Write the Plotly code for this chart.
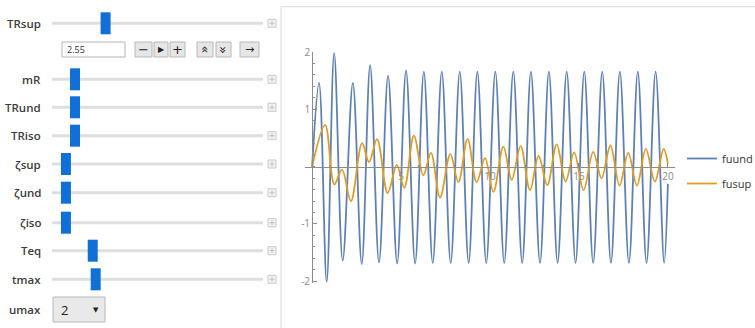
import plotly.graph_objects as go

W, H = 755, 328

# ---------------- data ----------------
t_fuund = [0, 0.39, 0.82, 1.24, 1.72, 2.29, 2.79, 3.26, 3.76, 4.27, 4.78, 5.28, 5.79,
           6.28, 6.78, 7.29, 7.79, 8.30, 8.80, 9.29, 9.79, 10.30, 10.80, 11.31, 11.81,
           12.30, 12.81, 13.31, 13.80, 14.31, 14.81, 15.30, 15.80, 16.31, 16.80, 17.30,
           17.81, 18.31, 18.80, 19.31, 19.79, 20.0]
fuund = [0, 1.46, -2.01, 1.98, -1.64, 1.46, -1.70, 1.77, -1.67, 1.59, -1.69, 1.68, -1.69,
         1.66, -1.68, 1.66, -1.68, 1.66, -1.68, 1.66, -1.68, 1.66, -1.68, 1.66, -1.68,
         1.66, -1.68, 1.66, -1.68, 1.66, -1.68, 1.66, -1.68, 1.66, -1.68, 1.66,
         -1.68, 1.66, -1.68, 1.66, -1.68, -0.3]

t_fusup = [0, 0.73, 1.25, 1.68, 2.18, 2.81, 3.20, 3.65, 4.25, 4.76, 5.18, 5.72, 6.25,
           6.68, 7.19, 7.77, 8.22, 8.74, 9.25, 9.72, 10.19, 10.75, 11.22, 11.72, 12.25,
           12.73, 13.22, 13.75, 14.25, 14.73, 15.26, 15.80, 16.27, 16.77, 17.28, 17.77,
           18.26, 18.76, 19.27, 19.76, 20.0]
fusup = [0, 0.73, -0.31, -0.05, -0.60, 0.41, 0.08, 0.48, -0.46, 0.03, -0.37, 0.54, -0.15,
         0.24, -0.54, 0.22, -0.27, 0.48, -0.27, 0.15, -0.44, 0.35, -0.23, 0.36, -0.41,
         0.19, -0.32, 0.39, -0.26, 0.25, -0.41, 0.26, -0.20, 0.37, -0.33, 0.24,
         -0.33, 0.31, -0.26, 0.31, 0.05]

x_tick_vals = [5, 10, 15, 20]
x_tick_text = ["5", "10", "15", "20"]
y_tick_vals = [-2, -1, 1, 2]
y_tick_text = ["-2", "-1", "1", "2"]

control_labels = ["TRsup", "mR", "TRund", "TRiso", "ζsup", "ζund", "ζiso", "Teq", "tmax"]
control_values = [0.254, 0.109, 0.109, 0.109, 0.066, 0.066, 0.066, 0.193, 0.207]
trsup_text = "2.55"
umax_label = "umax"
umax_value = "2"

# ---------------- helpers ----------------
def X(px):
    return px / W


def Y(py):
    return 1 - py / H


shapes = []
annotations = []

LABEL_FONT = dict(family="Open Sans", size=11.5, color="#3c3c3c", weight=600)
TRACK_X0, TRACK_X1 = 52, 263
row_y = [23.3, 79.3, 107.3, 135.7, 164.0, 192.7, 222.7, 250.7, 279.3]

for lab, val, yy in zip(control_labels, control_values, row_y):
    annotations.append(dict(x=X(43), y=Y(yy), xref="paper", yref="paper", text=lab,
                            showarrow=False, xanchor="right", yanchor="middle",
                            font=LABEL_FONT))
    shapes.append(dict(type="line", xref="paper", yref="paper",
                       x0=X(TRACK_X0), x1=X(TRACK_X1), y0=Y(yy), y1=Y(yy),
                       line=dict(color="#dedede", width=3)))
    cx = TRACK_X0 + val * (TRACK_X1 - TRACK_X0)
    shapes.append(dict(type="rect", xref="paper", yref="paper",
                       x0=X(cx - 5), x1=X(cx + 5), y0=Y(yy + 11), y1=Y(yy - 11),
                       fillcolor="#1170d8", line=dict(width=0)))
    # small "+" box at the right
    shapes.append(dict(type="rect", xref="paper", yref="paper",
                       x0=X(268), x1=X(276), y0=Y(yy + 4), y1=Y(yy - 4),
                       fillcolor="#f4f4f4", line=dict(color="#c8c8c8", width=1)))
    shapes.append(dict(type="line", xref="paper", yref="paper",
                       x0=X(269.5), x1=X(274.5), y0=Y(yy), y1=Y(yy),
                       line=dict(color="#c0c0c0", width=1)))
    shapes.append(dict(type="line", xref="paper", yref="paper",
                       x0=X(272), x1=X(272), y0=Y(yy - 2.5), y1=Y(yy + 2.5),
                       line=dict(color="#c0c0c0", width=1)))

# animation control row under TRsup
by0, by1 = 42, 57
shapes.append(dict(type="rect", xref="paper", yref="paper",
                   x0=X(62), x1=X(125), y0=Y(by1), y1=Y(by0),
                   fillcolor="#ffffff", line=dict(color="#b4b4b4", width=1)))
annotations.append(dict(x=X(65), y=Y(49.5), xref="paper", yref="paper", text=trsup_text,
                        showarrow=False, xanchor="left", yanchor="middle",
                        font=dict(family="Open Sans", size=9, color="#333333")))
buttons = [(135, 152, "−", 0, 13), (154, 168, "▶", 0, 8), (170, 185, "+", 0, 13),
           (197, 213, "«", 90, 13), (216, 231, "»", 90, 13), (240, 259, "→", 0, 11)]
for bx0, bx1, sym, ang, fs in buttons:
    shapes.append(dict(type="rect", xref="paper", yref="paper",
                       x0=X(bx0), x1=X(bx1), y0=Y(by1), y1=Y(by0),
                       fillcolor="#e6e6e6", line=dict(color="#b8b8b8", width=1)))
    annotations.append(dict(x=X((bx0 + bx1) / 2), y=Y(49.5), xref="paper", yref="paper",
                            text=sym, showarrow=False, xanchor="center", yanchor="middle",
                            textangle=ang,
                            font=dict(family="DejaVu Sans", size=fs, color="#222222")))

# umax popup menu
annotations.append(dict(x=X(43), y=Y(309.3), xref="paper", yref="paper", text=umax_label,
                        showarrow=False, xanchor="right", yanchor="middle", font=LABEL_FONT))
shapes.append(dict(type="rect", xref="paper", yref="paper",
                   x0=X(53), x1=X(105), y0=Y(322), y1=Y(297),
                   fillcolor="#e9e9e9", line=dict(color="#b8b8b8", width=1)))
annotations.append(dict(x=X(59), y=Y(309.5), xref="paper", yref="paper", text=umax_value,
                        showarrow=False, xanchor="left", yanchor="middle",
                        font=dict(family="Open Sans", size=13, color="#222222")))
annotations.append(dict(x=X(96), y=Y(309.5), xref="paper", yref="paper", text="▼",
                        showarrow=False, xanchor="center", yanchor="middle",
                        font=dict(family="DejaVu Sans", size=7, color="#222222")))

# output panel frame
shapes.append(dict(type="rect", xref="paper", yref="paper",
                   x0=X(281), x1=X(770), y0=Y(340), y1=Y(6.7),
                   fillcolor="rgba(0,0,0,0)", line=dict(color="#dadada", width=1), layer="below"))

# ---------------- traces ----------------
fig = go.Figure()
fig.add_trace(go.Scatter(x=t_fuund, y=fuund, mode="lines", name="fuund", legendgroup="a",
                         line=dict(color="#5E81B5", width=1.8, shape="spline", smoothing=1)))
fig.add_trace(go.Scatter(x=t_fusup, y=fusup, mode="lines", name="fusup", legendgroup="b",
                         line=dict(color="#E19C24", width=1.8, shape="spline", smoothing=1)))

AX_COLOR = "#8c8c8c"
TICK_FONT = dict(family="Open Sans", size=10, color="#8a8a8a")

fig.update_layout(
    width=W, height=H,
    margin=dict(l=0, r=0, t=0, b=0, autoexpand=False),
    paper_bgcolor="white", plot_bgcolor="rgba(0,0,0,0)",
    showlegend=True,
    legend=dict(x=X(682), y=Y(144), xanchor="left", yanchor="top",
                font=dict(family="Open Sans", size=11, color="#333333"),
                bgcolor="rgba(0,0,0,0)", tracegroupgap=6, itemwidth=30),
    xaxis=dict(domain=[X(305), X(675)], range=[-0.4, 20.4], anchor="free",
               position=Y(166.7), showgrid=False, zeroline=False, automargin=False,
               showline=True, linecolor=AX_COLOR, linewidth=1,
               tickmode="array", tickvals=x_tick_vals, ticktext=x_tick_text,
               ticks="inside", ticklen=4, tickcolor=AX_COLOR, tickfont=TICK_FONT,
               minor=dict(tickmode="linear", tick0=0, dtick=1, ticks="inside",
                          ticklen=2, tickcolor=AX_COLOR)),
    yaxis=dict(domain=[Y(283), Y(51.5)], range=[-2.03, 2.01], anchor="free",
               position=X(312.1), side="left", showgrid=False, zeroline=False,
               automargin=False,
               showline=True, linecolor=AX_COLOR, linewidth=1,
               tickmode="array", tickvals=y_tick_vals, ticktext=y_tick_text,
               ticks="inside", ticklen=4, tickcolor=AX_COLOR, tickfont=TICK_FONT,
               minor=dict(tickmode="linear", tick0=0, dtick=0.2, ticks="inside",
                          ticklen=2, tickcolor=AX_COLOR)),
    shapes=shapes,
    annotations=annotations,
    hovermode=False,
)

fig.write_html(
    "out.html",
    config={"displayModeBar": False},
    post_script=(
        "var d=document.getElementById('{plot_id}');"
        "d.style.position='fixed';d.style.top='0px';d.style.left='0px';"
        "var r=document.documentElement;r.style.margin='0';r.style.padding='0';"
        "r.style.overflow='hidden';r.style.height='328px';"
        "document.body.style.margin='0';document.body.style.padding='0';"
        "document.body.style.height='328px';document.body.style.overflow='hidden';"
    ),
)
